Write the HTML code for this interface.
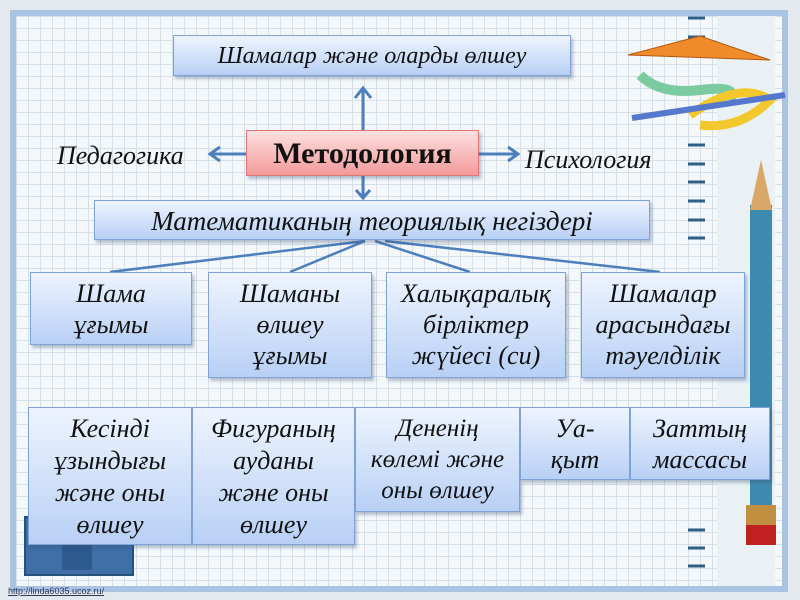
<!DOCTYPE html>
<html><head><meta charset="utf-8"><style>
body{margin:0;width:800px;height:600px;overflow:hidden;background:#e3e9ef;position:relative;font-family:"Liberation Serif",serif;}
.frame{position:absolute;left:10px;top:10px;width:766px;height:570px;border:6px solid #a9c4e2;box-sizing:content-box;
background-color:#f4f8fa;background-image:linear-gradient(#d3e0ea 1px,transparent 1px),linear-gradient(90deg,#d3e0ea 1px,transparent 1px);background-size:12px 12px;}
.rp{position:absolute;left:717px;top:16px;width:58px;height:570px;background:#e9f1f5;}
.b{position:absolute;box-sizing:border-box;border:1px solid #7fa3d6;background:linear-gradient(#eef4fe,#b8d0f5);box-shadow:2px 3px 3px rgba(60,80,120,.35);text-align:center;font-style:italic;color:#111;font-size:26px;line-height:31px;white-space:nowrap;}
.t{position:absolute;font-style:italic;font-size:26px;color:#111;}
</style></head><body>
<div class="frame"></div>
<div class="rp"></div>
<svg style="position:absolute;left:0;top:0" width="800" height="600">
<g stroke="#2e5f86" stroke-width="3">
<line x1="688" y1="18" x2="705" y2="18"/><line x1="688" y1="37" x2="705" y2="37"/><line x1="688" y1="145" x2="705" y2="145"/><line x1="688" y1="164" x2="705" y2="164"/><line x1="688" y1="182" x2="705" y2="182"/><line x1="688" y1="201" x2="705" y2="201"/><line x1="688" y1="220" x2="705" y2="220"/><line x1="688" y1="238" x2="705" y2="238"/><line x1="688" y1="530" x2="705" y2="530"/><line x1="688" y1="548" x2="705" y2="548"/><line x1="688" y1="566" x2="705" y2="566"/></g>
<polygon points="628,55 770,60 700,36" fill="#f08a2a" stroke="#b05a10"/>
<path d="M640,75 Q660,95 700,90 Q740,85 730,100" stroke="#7ccba0" stroke-width="10" fill="none"/>
<path d="M690,115 Q740,80 770,100 Q740,130 700,125" stroke="#f3c82c" stroke-width="9" fill="none"/>
<line x1="632" y1="118" x2="785" y2="95" stroke="#5577cc" stroke-width="6"/>
<rect x="750" y="205" width="22" height="300" fill="#3d8ab0"/>
<polygon points="750,210 772,210 761,160" fill="#d9a868"/>
<rect x="746" y="505" width="30" height="20" fill="#c09040"/><rect x="746" y="525" width="30" height="20" fill="#c02020"/>
<g stroke="#4d7fbd" stroke-width="3" fill="none">
<line x1="363" y1="130" x2="363" y2="90"/><polyline points="355,98 363,88 371,98"/>
<line x1="363" y1="176" x2="363" y2="196"/><polyline points="356,190 363,198 370,190"/>
<line x1="246" y1="154" x2="212" y2="154"/><polyline points="220,147 210,154 220,161"/>
<line x1="479" y1="154" x2="516" y2="154"/><polyline points="508,147 518,154 508,161"/>
</g>
<g stroke="#4d7fbd" stroke-width="2.5">
<line x1="365" y1="241" x2="110" y2="272"/><line x1="365" y1="241" x2="290" y2="272"/><line x1="375" y1="241" x2="470" y2="272"/><line x1="385" y1="241" x2="660" y2="272"/>
</g>
<rect x="25" y="517" width="108" height="58" fill="#3f6fa6" stroke="#26507e" stroke-width="2"/>
<rect x="62" y="545" width="30" height="25" fill="#2c5a8c"/>
</svg>
<div class="b" style="left:173px;top:35px;width:398px;height:41px;line-height:40px;font-size:24px">Шамалар және оларды өлшеу</div>
<div class="b" style="left:246px;top:130px;width:233px;height:46px;line-height:46px;font-style:normal;font-weight:bold;font-size:30px;background:linear-gradient(#fde0e0,#f39a9a);border-color:#d77">Методология</div>
<div class="t" style="left:57px;top:141px">Педагогика</div>
<div class="t" style="left:525px;top:145px">Психология</div>
<div class="b" style="left:94px;top:200px;width:556px;height:40px;line-height:40px;font-size:27px">Математиканың теориялық негіздері</div>
<div class="b" style="left:30px;top:272px;width:162px;height:73px;padding-top:5px">Шама<br>ұғымы</div>
<div class="b" style="left:208px;top:272px;width:164px;height:106px;padding-top:5px">Шаманы<br>өлшеу<br>ұғымы</div>
<div class="b" style="left:386px;top:272px;width:180px;height:106px;padding-top:5px">Халықаралық<br>бірліктер<br>жүйесі (си)</div>
<div class="b" style="left:581px;top:272px;width:164px;height:106px;padding-top:5px">Шамалар<br>арасындағы<br>тәуелділік</div>
<div class="b" style="left:28px;top:407px;width:164px;height:138px;padding-top:5px;line-height:32px">Кесінді<br>ұзындығы<br>және оны<br>өлшеу</div>
<div class="b" style="left:192px;top:407px;width:163px;height:138px;padding-top:5px;line-height:32px">Фигураның<br>ауданы<br>және оны<br>өлшеу</div>
<div class="b" style="left:355px;top:407px;width:165px;height:105px;padding-top:5px;font-size:25px">Дененің<br>көлемі және<br>оны өлшеу</div>
<div class="b" style="left:520px;top:407px;width:110px;height:73px;padding-top:5px">Уа-<br>қыт</div>
<div class="b" style="left:630px;top:407px;width:140px;height:73px;padding-top:5px">Заттың<br>массасы</div>
<div style="position:absolute;left:8px;top:586px;font-size:9px;color:#335;font-family:'Liberation Sans',sans-serif;text-decoration:underline">http://linda6035.ucoz.ru/</div>
</body></html>
